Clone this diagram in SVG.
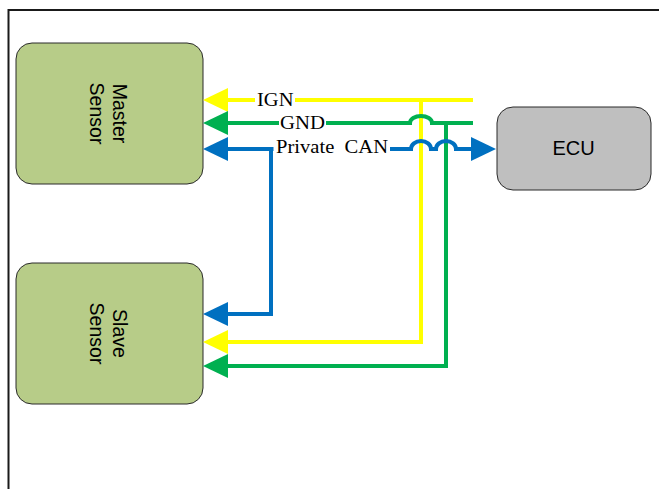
<svg xmlns="http://www.w3.org/2000/svg" width="659" height="489" viewBox="0 0 659 489">
<defs>
<style>
.node{fill:#B7CC88;stroke:#2b2b2b;stroke-width:1}
.ecu{fill:#BFBFBF;stroke:#2b2b2b;stroke-width:1}
.ntext{font-family:"Liberation Sans",Arial,sans-serif;font-size:19.5px;fill:#000;text-anchor:middle}
.lbl{font-family:"Liberation Serif","Times New Roman",serif;font-size:18.5px;fill:#000}
.w{fill:none;stroke-width:4;stroke-linejoin:miter}
.y{stroke:#FFFF00}
.g{stroke:#00B050}
.b{stroke:#0070C0}
</style>
<marker id="ay" viewBox="0 0 25 24" refX="5" refY="12" markerWidth="25" markerHeight="24" markerUnits="userSpaceOnUse" orient="auto-start-reverse"><path d="M0,0 L25,12 L0,24 z" fill="#FFFF00"/></marker>
<marker id="ag" viewBox="0 0 25 24" refX="5" refY="12" markerWidth="25" markerHeight="24" markerUnits="userSpaceOnUse" orient="auto-start-reverse"><path d="M0,0 L25,12 L0,24 z" fill="#00B050"/></marker>
<marker id="ab" viewBox="0 0 25 24" refX="5" refY="12" markerWidth="25" markerHeight="24" markerUnits="userSpaceOnUse" orient="auto-start-reverse"><path d="M0,0 L25,12 L0,24 z" fill="#0070C0"/></marker>
</defs>
<rect x="0" y="0" width="659" height="489" fill="#fff"/>
<rect x="8.5" y="10" width="700" height="600" fill="none" stroke="#1a1a1a" stroke-width="2"/>

<g id="master">
<rect class="node" x="16" y="43" width="187" height="141" rx="16"/>
<text class="ntext" transform="translate(109.5,113.5) rotate(90)"><tspan x="0" y="-3.8">Master</tspan><tspan x="0" y="19.5">Sensor</tspan></text>
</g>
<g id="slave">
<rect class="node" x="16" y="263" width="187" height="141" rx="16"/>
<text class="ntext" transform="translate(109.5,333.5) rotate(90)"><tspan x="0" y="-3.8">Slave</tspan><tspan x="0" y="19.5">Sensor</tspan></text>
</g>
<g id="ecu">
<rect class="ecu" x="497" y="107" width="154" height="83" rx="16"/>
<text class="ntext" x="573.5" y="155" style="font-size:20px">ECU</text>
</g>

<g id="connectors">
<path class="w y" d="M473,100 H223" marker-end="url(#ay)"/>
<path class="w y" d="M421,100 V342 H223" marker-end="url(#ay)"/>
<path class="w g" d="M473,123 H432 a11,7 0 0 0 -22,0 H223" marker-end="url(#ag)"/>
<path class="w g" d="M446,123 V366 H223" marker-end="url(#ag)"/>
<path class="w b" d="M223,149 H411 a10,8 0 0 1 20,0 H436 a10,8 0 0 1 20,0 H476" marker-start="url(#ab)" marker-end="url(#ab)"/>
<path class="w b" d="M271,149 V314 H223" marker-end="url(#ab)"/>
</g>

<g id="labels">
<rect x="255" y="92" width="40" height="16" fill="#fff"/>
<text class="lbl" x="257" y="106.3" textLength="36.5" lengthAdjust="spacingAndGlyphs">IGN</text>
<rect x="279" y="115" width="47" height="16" fill="#fff"/>
<text class="lbl" x="280" y="128.7" textLength="45" lengthAdjust="spacingAndGlyphs">GND</text>
<rect x="273.5" y="140" width="116.5" height="16" fill="#fff"/>
<text class="lbl" x="276" y="153" textLength="112" lengthAdjust="spacingAndGlyphs">Private&#160; CAN</text>
</g>
</svg>
